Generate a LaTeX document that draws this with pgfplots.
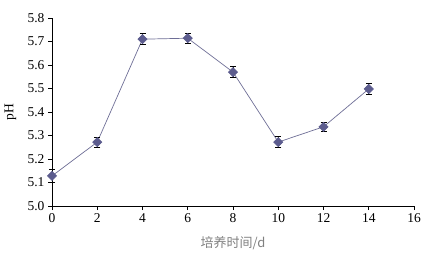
\documentclass[border=0pt]{standalone}
\usepackage{pgfplots}
\pgfplotsset{compat=1.18}
\usepackage{fontspec}
\setmainfont{Liberation Serif}
\newfontfamily\cjk{Noto Sans CJK SC}
\definecolor{mk}{HTML}{5C5C8E}
\definecolor{ln}{HTML}{6E6E96}
\begin{document}
\begin{tikzpicture}[x=1pt,y=1pt]
\useasboundingbox (-52,-52) rectangle (379,206);
\begin{axis}[
  at={(0,0)}, anchor=south west,
  scale only axis, width=362pt, height=188pt,
  xmin=0, xmax=16, ymin=5.0, ymax=5.8,
  xtick={0,2,...,16}, ytick={5.0,5.1,...,5.8},
  axis x line*=bottom, axis y line*=left,
  axis line style={black, line width=0.8pt, -},
  tick style={black, line width=0.8pt},
  tick align=outside, major tick length=4pt,
  xticklabel={\pgfmathprintnumber[assume math mode=true]{\tick}},
  yticklabel={\pgfmathprintnumber[fixed,fixed zerofill,precision=1,assume math mode=true]{\tick}},
  tick label style={font=\fontsize{13.5}{15}\selectfont},
  ylabel={pH}, ylabel style={font=\fontsize{13.5}{15}\selectfont, at={(axis description cs:-0.115,0.5)}, anchor=center},
  xlabel={\cjk 培养时间/d}, xlabel style={font=\fontsize{13}{14}\selectfont, text=gray, yshift=-7pt},
  clip=false,
]
\addplot[color=ln, line width=0.7pt, mark=square*, mark size=3.2pt,
  mark options={fill=mk, draw=mk, rotate=45},
  error bars/.cd, y dir=both, y explicit,
  error bar style={black, line width=0.8pt}, error mark options={black, line width=0.8pt, mark size=3pt, rotate=90}]
  coordinates {
  (0,5.128) +- (0,0.028)
  (2,5.272) +- (0,0.022)
  (4,5.710) +- (0,0.024)
  (6,5.714) +- (0,0.022)
  (8,5.570) +- (0,0.024)
  (10,5.272) +- (0,0.024)
  (12,5.337) +- (0,0.018)
  (14,5.498) +- (0,0.022)
  };
\end{axis}
\end{tikzpicture}
\end{document}
